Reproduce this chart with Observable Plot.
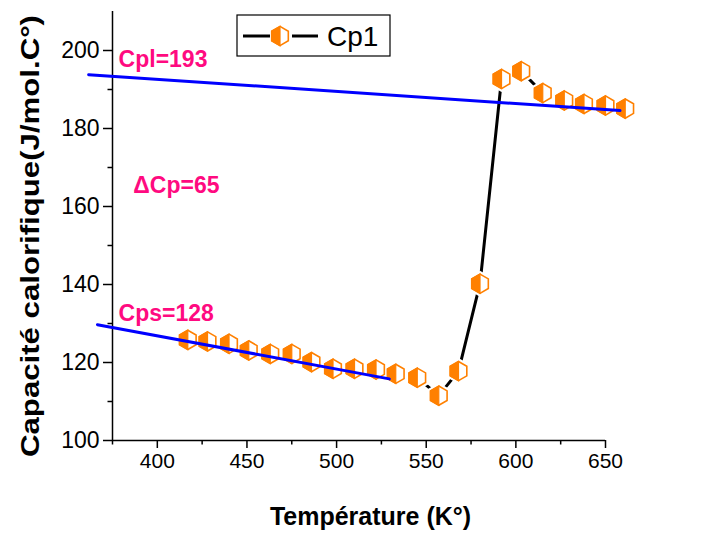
<!DOCTYPE html>
<html>
<head>
<meta charset="utf-8">
<script src="https://cdn.jsdelivr.net/npm/d3@7"></script>
<script src="https://cdn.jsdelivr.net/npm/@observablehq/plot@0.6"></script>
<style>
  html, body { margin: 0; padding: 0; background: #fff; }
  svg { display: block; }
</style>
</head>
<body>
<div id="chart"></div>
<script>
// ---- data ----
const tempK = [417, 428, 440, 451, 463, 475, 486, 498, 510, 522, 533, 545, 557, 568, 580, 592, 603, 615, 627, 638, 650, 661];
const cp1   = [125.8, 125.4, 124.8, 123.1, 122.2, 122.2, 120.1, 118.4, 118.4, 118.2, 117.1, 116.1, 111.5, 117.8, 140.2, 192.7, 194.7, 189.1, 187.2, 186.3, 185.9, 185.1];

// fitted straight lines (liquid / solid)
const cplX = [361.7, 658.1];
const cplY = [193.8, 184.6];
const cpsX = [366.6, 529.4];
const cpsY = [129.7, 115.8];

// annotations
const annoText = ["Cpl=193", "\u0394Cp=65", "Cps=128"];
const annoX = [378.4, 386.6, 378.4];
const annoY = [197.7, 165.4, 132.6];

// ticks
const xTicks = [400, 450, 500, 550, 600, 650];
const xMinor = [375, 425, 475, 525, 575, 625];
const yTicks = [100, 120, 140, 160, 180, 200];
const yMinor = [110, 130, 150, 170, 190];

const seriesName = "Cp1";
const xLabel = "Température (K°)";
const yLabel = "Capacité calorifique(J/mol.C°)";

// ---- build tables ----
const data = tempK.map((t, i) => ({t, cp: cp1[i]}));
const cpl = cplX.map((x, i) => ({x, y: cplY[i]}));
const cps = cpsX.map((x, i) => ({x, y: cpsY[i]}));
const annos = annoText.map((s, i) => ({s, x: annoX[i], y: annoY[i]}));

// custom hexagon symbols (pointy top)
const hexFull = {draw(ctx, size) {
  const R = Math.sqrt(size / Math.PI), s = R * Math.sqrt(3) / 2;
  ctx.moveTo(0, -R); ctx.lineTo(s, -R / 2); ctx.lineTo(s, R / 2);
  ctx.lineTo(0, R); ctx.lineTo(-s, R / 2); ctx.lineTo(-s, -R / 2); ctx.closePath();
}};
const hexLeft = {draw(ctx, size) {
  const R = Math.sqrt(size / Math.PI), s = R * Math.sqrt(3) / 2;
  ctx.moveTo(0, -R); ctx.lineTo(-s, -R / 2); ctx.lineTo(-s, R / 2); ctx.lineTo(0, R); ctx.closePath();
}};

const ORANGE = "#ff8000";
const PINK = "#ff0a80";
const BLUE = "#0000ff";
const FONT = "'Liberation Sans', Arial, sans-serif";

const plot = Plot.plot({
  width: 712,
  height: 533,
  marginLeft: 112,
  marginRight: 107,
  marginTop: 11,
  marginBottom: 93,
  style: {fontFamily: FONT, background: "white", overflow: "visible"},
  x: {domain: [375, 650], axis: null},
  y: {domain: [100, 210], axis: null},
  marks: [
    // axes
    Plot.axisX({ticks: xTicks, tickSize: 8, tickPadding: 5, fontSize: 21, strokeWidth: 1.5, label: null, tickFormat: d => String(d)}),
    Plot.axisX({ticks: xMinor, tickSize: 4.5, strokeWidth: 1.5, label: null, tickFormat: () => ""}),
    Plot.axisY({ticks: yTicks, tickSize: 9, tickPadding: 4, fontSize: 23, strokeWidth: 1.5, label: null, tickFormat: d => String(d)}),
    Plot.axisY({ticks: yMinor, tickSize: 4.5, strokeWidth: 1.5, label: null, tickFormat: () => ""}),
    Plot.ruleX([375], {y1: 100, y2: 210, strokeWidth: 1.5}),
    Plot.ruleY([100], {x1: 375, x2: 650, strokeWidth: 1.5}),
    // series line
    Plot.line(data, {x: "t", y: "cp", stroke: "black", strokeWidth: 3}),
    // white halos to create gaps around markers
    Plot.dot(data, {x: "t", y: "cp", symbol: hexFull, r: 13, fill: "white", stroke: "none"}),
    // markers
    Plot.dot(data, {x: "t", y: "cp", symbol: hexFull, r: 9.6, fill: "white", stroke: ORANGE, strokeWidth: 1.6}),
    Plot.dot(data, {x: "t", y: "cp", symbol: hexLeft, r: 9.6, fill: ORANGE, stroke: ORANGE, strokeWidth: 1.2}),
    // fitted lines
    Plot.line(cpl, {x: "x", y: "y", stroke: BLUE, strokeWidth: 3}),
    Plot.line(cps, {x: "x", y: "y", stroke: BLUE, strokeWidth: 3}),
    // annotations
    Plot.text(annos, {x: "x", y: "y", text: "s", textAnchor: "start", lineAnchor: "middle", fill: PINK, fontSize: 23, fontWeight: "bold"}),
    // x axis label
    Plot.text([xLabel], {text: d => d, frameAnchor: "bottom", dx: 11.5, dy: 76, lineAnchor: "middle", fontSize: 25, fontWeight: "bold", fill: "black"})
  ]
});

document.getElementById("chart").appendChild(plot);
const svg = d3.select(plot);

// y axis label (rotated, stretched to the reference length)
svg.append("text")
  .attr("transform", "translate(31,236) rotate(-90)")
  .attr("x", -221).attr("y", 8)
  .attr("text-anchor", "start")
  .attr("textLength", 442).attr("lengthAdjust", "spacingAndGlyphs")
  .attr("font-family", FONT).attr("font-size", 26).attr("font-weight", "bold").attr("fill", "black")
  .text(yLabel);

// legend (inside the plot, top)
const lg = svg.append("g").attr("class", "legend");
lg.append("rect").attr("x", 237).attr("y", 15).attr("width", 153).attr("height", 41)
  .attr("fill", "white").attr("stroke", "black").attr("stroke-width", 1.2);
lg.append("line").attr("x1", 243).attr("x2", 270).attr("y1", 36).attr("y2", 36).attr("stroke", "black").attr("stroke-width", 3);
lg.append("line").attr("x1", 292).attr("x2", 318).attr("y1", 36).attr("y2", 36).attr("stroke", "black").attr("stroke-width", 3);
const lgR = 9.6;
const pFull = d3.path(); hexFull.draw(pFull, lgR * lgR * Math.PI);
const pLeft = d3.path(); hexLeft.draw(pLeft, lgR * lgR * Math.PI);
lg.append("path").attr("transform", "translate(280,36)").attr("d", pFull.toString())
  .attr("fill", "white").attr("stroke", ORANGE).attr("stroke-width", 1.6);
lg.append("path").attr("transform", "translate(280,36)").attr("d", pLeft.toString())
  .attr("fill", ORANGE).attr("stroke", ORANGE).attr("stroke-width", 1.2);
lg.append("text").attr("x", 327).attr("y", 46).attr("text-anchor", "start").text(seriesName)
  .attr("font-family", FONT).attr("font-size", 28).attr("fill", "black");
</script>
</body>
</html>
